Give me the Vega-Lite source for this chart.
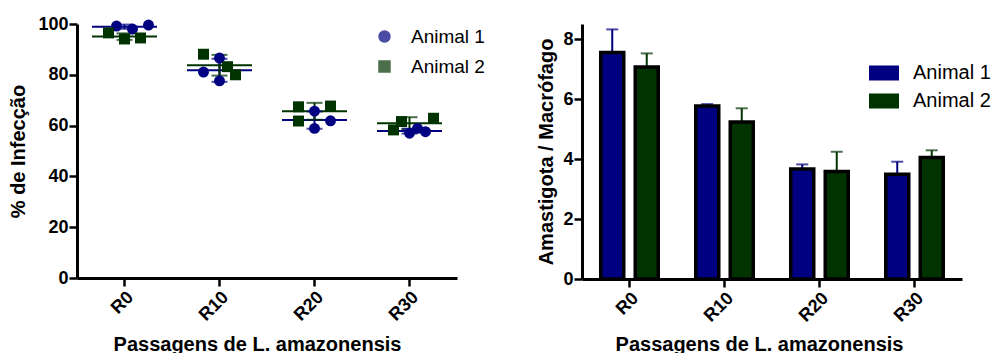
{
  "$schema": "https://vega.github.io/schema/vega-lite/v6.json",
  "autosize": {"type": "pad"},
  "padding": {"left": 8, "top": 15, "right": 0, "bottom": 0},
  "bounds": "flush",
  "spacing": 125,
  "resolve": {
    "scale": {"color": "independent", "shape": "independent", "xOffset": "independent", "x": "independent", "y": "independent"},
    "legend": {"color": "independent", "shape": "independent"}
  },
  "config": {
    "view": {"stroke": null},
    "font": "Liberation Sans",
    "axis": {
      "grid": false,
      "domainColor": "black",
      "domainWidth": 3,
      "tickColor": "black",
      "tickWidth": 2.5,
      "tickSize": 8,
      "labelFont": "Liberation Sans",
      "labelFontSize": 18,
      "labelFontWeight": "bold",
      "labelColor": "black",
      "titleFont": "Liberation Sans",
      "titleFontSize": 20,
      "titleFontWeight": "bold",
      "titleColor": "black"
    },
    "legend": {
      "labelFont": "Liberation Sans",
      "labelFontSize": 19,
      "labelColor": "black",
      "padding": 0
    }
  },
  "hconcat": [
    {
      "width": 380,
      "height": 254,
      "data": {
        "values": [
          {"passagem": "R0", "animal": "Animal 1", "rep": 2, "valor": 99.2},
          {"passagem": "R0", "animal": "Animal 1", "rep": 4, "valor": 98.0},
          {"passagem": "R0", "animal": "Animal 1", "rep": 6, "valor": 99.6},
          {"passagem": "R0", "animal": "Animal 2", "rep": 1, "valor": 96.5},
          {"passagem": "R0", "animal": "Animal 2", "rep": 3, "valor": 94.1},
          {"passagem": "R0", "animal": "Animal 2", "rep": 5, "valor": 94.5},
          {"passagem": "R10", "animal": "Animal 1", "rep": 1, "valor": 81.1},
          {"passagem": "R10", "animal": "Animal 1", "rep": 3, "valor": 86.6},
          {"passagem": "R10", "animal": "Animal 1", "rep": 3, "valor": 77.6},
          {"passagem": "R10", "animal": "Animal 2", "rep": 1, "valor": 88.1},
          {"passagem": "R10", "animal": "Animal 2", "rep": 4, "valor": 83.2},
          {"passagem": "R10", "animal": "Animal 2", "rep": 5, "valor": 80.0},
          {"passagem": "R20", "animal": "Animal 1", "rep": 3, "valor": 65.7},
          {"passagem": "R20", "animal": "Animal 1", "rep": 5, "valor": 61.9},
          {"passagem": "R20", "animal": "Animal 1", "rep": 3, "valor": 58.9},
          {"passagem": "R20", "animal": "Animal 2", "rep": 1, "valor": 67.4},
          {"passagem": "R20", "animal": "Animal 2", "rep": 5, "valor": 67.7},
          {"passagem": "R20", "animal": "Animal 2", "rep": 1, "valor": 61.8},
          {"passagem": "R30", "animal": "Animal 1", "rep": 3, "valor": 57.0},
          {"passagem": "R30", "animal": "Animal 1", "rep": 4, "valor": 58.9},
          {"passagem": "R30", "animal": "Animal 1", "rep": 5, "valor": 57.6},
          {"passagem": "R30", "animal": "Animal 2", "rep": 1, "valor": 58.3},
          {"passagem": "R30", "animal": "Animal 2", "rep": 2, "valor": 61.6},
          {"passagem": "R30", "animal": "Animal 2", "rep": 6, "valor": 62.9}
        ]
      },
      "encoding": {
        "x": {
          "field": "passagem",
          "type": "nominal",
          "sort": ["R0", "R10", "R20", "R30"],
          "scale": {"paddingInner": 0, "paddingOuter": 0},
          "axis": {"title": "Passagens de L. amazonensis", "labelAngle": -45, "titleX": 180, "titleY": 72, "titleBaseline": "alphabetic"}
        }
      },
      "layer": [
        {
          "mark": {"type": "tick", "size": 65, "thickness": 2},
          "encoding": {
            "y": {"aggregate": "mean", "field": "valor", "type": "quantitative", "title": "% de Infecção", "scale": {"domain": [0, 100], "nice": false},
              "axis": {"title": "% de Infecção", "values": [0, 20, 40, 60, 80, 100], "labelPadding": 1, "titlePadding": 9}},
            "color": {"field": "animal", "type": "nominal", "scale": {"domain": ["Animal 1", "Animal 2"], "range": ["#000080", "#003300"]}}
          }
        },
        {
          "mark": {"type": "errorbar", "extent": "stdev", "ticks": {"size": 16, "thickness": 2}, "rule": {"strokeWidth": 2}},
          "encoding": {
            "y": {"field": "valor", "type": "quantitative", "title": "% de Infecção"},
            "color": {"field": "animal", "type": "nominal"}
          }
        },
        {
          "mark": {"type": "point", "filled": true, "opacity": 1, "size": 120},
          "encoding": {
            "y": {"field": "valor", "type": "quantitative", "title": "% de Infecção"},
            "xOffset": {"field": "rep", "type": "ordinal", "scale": {"type": "point", "domain": [1, 2, 3, 4, 5, 6], "range": [31.5, 71.5], "padding": 0}},
            "color": {"field": "animal", "type": "nominal",
              "legend": {"title": null, "orient": "none", "legendX": 298, "legendY": 3, "rowPadding": 10, "labelOffset": 17, "symbolSize": 120, "symbolOpacity": 1}},
            "shape": {"field": "animal", "type": "nominal", "scale": {"domain": ["Animal 1", "Animal 2"], "range": ["circle", "square"]},
              "legend": {"title": null, "orient": "none", "legendX": 298, "legendY": 3, "rowPadding": 10, "labelOffset": 17, "symbolSize": 120, "symbolOpacity": 1}}
          }
        }
      ]
    },
    {
      "width": 380,
      "height": 255,
      "data": {
        "values": [
          {"passagem": "R0", "animal": "Animal 1", "media": 7.55, "sup": 8.32},
          {"passagem": "R0", "animal": "Animal 2", "media": 7.07, "sup": 7.52},
          {"passagem": "R10", "animal": "Animal 1", "media": 5.77, "sup": 5.83},
          {"passagem": "R10", "animal": "Animal 2", "media": 5.23, "sup": 5.69},
          {"passagem": "R20", "animal": "Animal 1", "media": 3.67, "sup": 3.82},
          {"passagem": "R20", "animal": "Animal 2", "media": 3.58, "sup": 4.24},
          {"passagem": "R30", "animal": "Animal 1", "media": 3.49, "sup": 3.91},
          {"passagem": "R30", "animal": "Animal 2", "media": 4.05, "sup": 4.29}
        ]
      },
      "encoding": {
        "x": {
          "field": "passagem",
          "type": "nominal",
          "sort": ["R0", "R10", "R20", "R30"],
          "scale": {"paddingInner": 0, "paddingOuter": 0},
          "axis": {"title": "Passagens de L. amazonensis", "labelAngle": -45, "titleX": 177, "titleY": 71, "titleBaseline": "alphabetic"}
        },
        "xOffset": {"field": "animal", "type": "nominal", "scale": {"paddingInner": 0.333, "paddingOuter": 0.5435}},
        "color": {"field": "animal", "type": "nominal", "scale": {"domain": ["Animal 1", "Animal 2"], "range": ["#000080", "#003300"]},
          "legend": {"title": null, "orient": "none", "legendX": 287, "legendY": 34, "rowPadding": 0, "labelOffset": 14, "labelFontSize": 20,
            "symbolType": "M-1,-0.45H1V0.45H-1Z", "symbolSize": 729, "symbolStrokeColor": "black", "symbolStrokeWidth": 3, "symbolOpacity": 1}}
      },
      "layer": [
        {
          "mark": {"type": "rule", "strokeWidth": 2},
          "encoding": {
            "y": {"field": "media", "type": "quantitative", "title": "Amastigota / Macrófago", "scale": {"domain": [0, 8.5], "nice": false},
              "axis": {"title": "Amastigota / Macrófago", "values": [0, 2, 4, 6, 8], "labelPadding": 1, "titlePadding": 6}},
            "y2": {"field": "sup"}
          }
        },
        {
          "mark": {"type": "tick", "size": 12, "thickness": 2},
          "encoding": {
            "y": {"field": "sup", "type": "quantitative", "title": "Amastigota / Macrófago"}
          }
        },
        {
          "mark": {"type": "bar", "stroke": "black", "strokeWidth": 3.5, "opacity": 1},
          "encoding": {
            "y": {"field": "media", "type": "quantitative", "title": "Amastigota / Macrófago"}
          }
        }
      ]
    }
  ]
}
